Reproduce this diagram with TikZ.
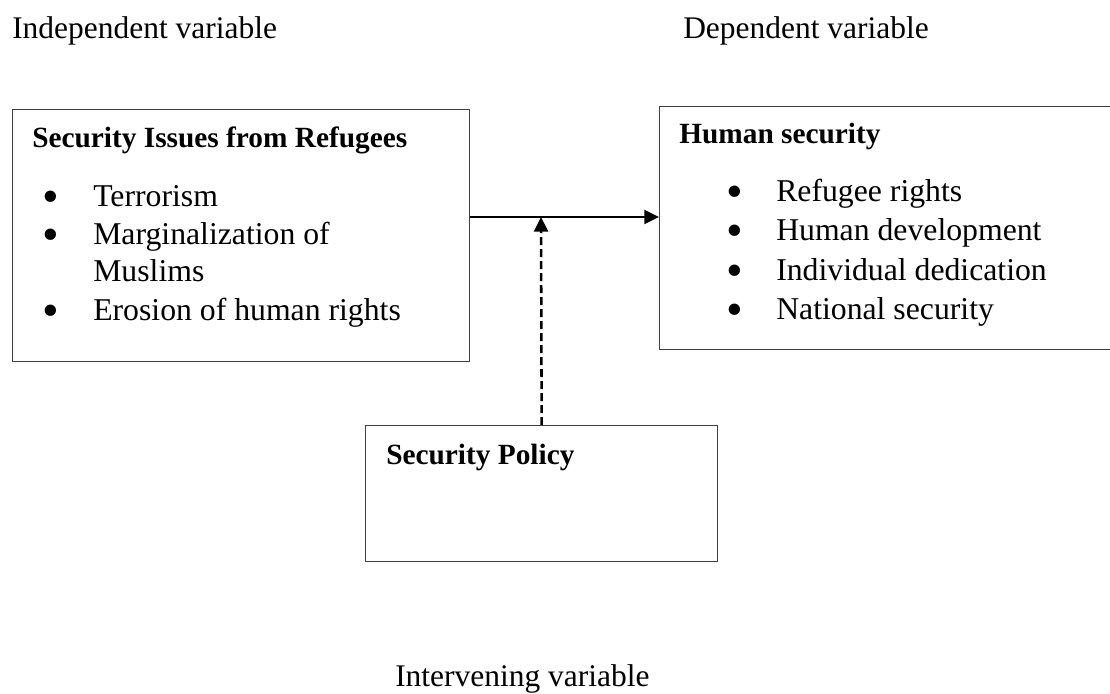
\documentclass[tikz,border=0pt]{standalone}
\usepackage{fontspec}
\setmainfont{Liberation Serif}
\usetikzlibrary{arrows.meta}

\newcommand{\bigbullet}{\smash{\raisebox{-0.19em}{\scalebox{1.5}{\textbullet}}}}

\begin{document}
\begin{tikzpicture}[x=0.75pt,y=0.75pt,yscale=-1,xscale=1,
  box/.style={draw={rgb, 255:red, 64; green, 64; blue, 64}, line width=1pt, inner sep=0pt, anchor=north west},
  heading/.style={anchor=base west, inner sep=0pt, font=\fontsize{22}{26}\selectfont\bfseries},
  item/.style={anchor=base west, inner sep=0pt, font=\fontsize{23.8}{29}\selectfont},
  dot/.style={anchor=base, inner sep=0pt, font=\fontsize{23.8}{29}\selectfont},
  varlabel/.style={anchor=base west, inner sep=0pt, font=\fontsize{23.6}{28}\selectfont},
  flow/.style={line width=1.5pt, -{Triangle[length=11pt, width=10.5pt]}},
  influence/.style={line width=1.9pt, dash pattern=on 6pt off 3pt, -{Triangle[length=11pt, width=10.5pt]}}]
\useasboundingbox (0,0) rectangle (1110,693);

% Text Node
\node [varlabel] (indep) at (12,38) {Independent variable};
% Text Node
\node [varlabel] (dep) at (683,38) {Dependent variable};
% Text Node
\node [varlabel] (interv) at (395,686) {Intervening variable};

%Shape: Rectangle
\node [box, minimum width=342.75pt, minimum height=189pt] (issues) at (12,109) {};
% Text Node
\node [heading] (issuesHead) at (32,147) {Security Issues from Refugees};
\node [dot] (issuesB1) at (51,206) {\bigbullet};
\node [item] (issuesI1) at (93,206) {Terrorism};
\node [dot] (issuesB2) at (51,244) {\bigbullet};
\node [item] (issuesI2) at (93,244) {Marginalization of};
\node [item] (issuesI2b) at (93,281) {Muslims};
\node [dot] (issuesB3) at (51,320) {\bigbullet};
\node [item] (issuesI3) at (93,320) {Erosion of human rights};

%Shape: Rectangle
\node [box, minimum width=345.75pt, minimum height=182.25pt] (human) at (659,106) {};
% Text Node
\node [heading] (humanHead) at (679,143) {Human security};
\node [dot] (humanB1) at (735,201) {\bigbullet};
\node [item] (humanI1) at (776,201) {Refugee rights};
\node [dot] (humanB2) at (735,240) {\bigbullet};
\node [item] (humanI2) at (776,240) {Human development};
\node [dot] (humanB3) at (735,280) {\bigbullet};
\node [item] (humanI3) at (776,280) {Individual dedication};
\node [dot] (humanB4) at (735,319) {\bigbullet};
\node [item] (humanI4) at (776,319) {National security};

%Shape: Rectangle
\node [box, minimum width=264pt, minimum height=102pt] (policy) at (365,425) {};
% Text Node
\node [heading] (policyHead) at (386,464) {Security Policy};

%Straight Lines
\coordinate (meet) at (541,217);
\draw [flow] (issues.east |- meet) -- (human.west |- meet);
%Straight Lines
\draw [influence] (policy.north) -- (meet);

\end{tikzpicture}
\end{document}
